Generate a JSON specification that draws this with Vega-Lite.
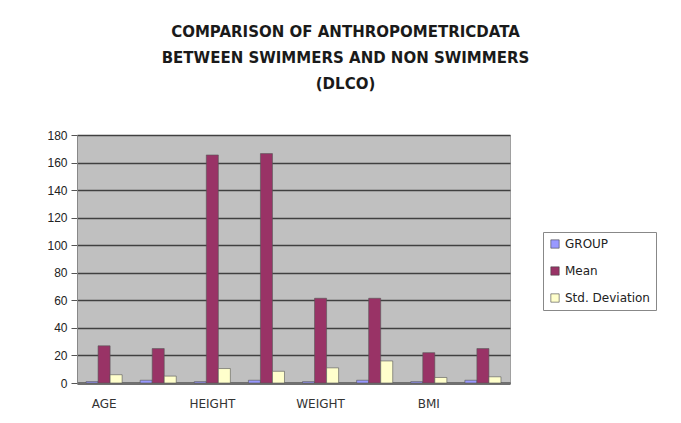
{
  "$schema": "https://vega.github.io/schema/vega-lite/v6.json",
  "autosize": "none",
  "width": 433,
  "height": 248,
  "padding": {"left": 77, "top": 135, "right": 171, "bottom": 40},
  "background": "white",
  "title": {
    "text": ["COMPARISON OF ANTHROPOMETRICDATA", "BETWEEN SWIMMERS AND NON SWIMMERS", "(DLCO)"],
    "font": "DejaVu Sans",
    "fontSize": 15,
    "fontWeight": "bold",
    "color": "#1a1a1a",
    "anchor": "middle",
    "dx": 52,
    "lineHeight": 26,
    "offset": 37
  },
  "data": {
    "values": [
      {"item": "AGE-1", "series": "GROUP", "value": 1},
      {"item": "AGE-1", "series": "Mean", "value": 27},
      {"item": "AGE-1", "series": "Std. Deviation", "value": 6},
      {"item": "AGE-2", "series": "GROUP", "value": 2},
      {"item": "AGE-2", "series": "Mean", "value": 25},
      {"item": "AGE-2", "series": "Std. Deviation", "value": 5},
      {"item": "HEIGHT-1", "series": "GROUP", "value": 1},
      {"item": "HEIGHT-1", "series": "Mean", "value": 165.5},
      {"item": "HEIGHT-1", "series": "Std. Deviation", "value": 10.5},
      {"item": "HEIGHT-2", "series": "GROUP", "value": 2},
      {"item": "HEIGHT-2", "series": "Mean", "value": 166.5},
      {"item": "HEIGHT-2", "series": "Std. Deviation", "value": 8.5},
      {"item": "WEIGHT-1", "series": "GROUP", "value": 1},
      {"item": "WEIGHT-1", "series": "Mean", "value": 61.5},
      {"item": "WEIGHT-1", "series": "Std. Deviation", "value": 11},
      {"item": "WEIGHT-2", "series": "GROUP", "value": 2},
      {"item": "WEIGHT-2", "series": "Mean", "value": 61.5},
      {"item": "WEIGHT-2", "series": "Std. Deviation", "value": 16},
      {"item": "BMI-1", "series": "GROUP", "value": 1},
      {"item": "BMI-1", "series": "Mean", "value": 22},
      {"item": "BMI-1", "series": "Std. Deviation", "value": 4},
      {"item": "BMI-2", "series": "GROUP", "value": 2},
      {"item": "BMI-2", "series": "Mean", "value": 25},
      {"item": "BMI-2", "series": "Std. Deviation", "value": 4.5}
    ]
  },
  "mark": {"type": "bar", "stroke": "#555555", "strokeWidth": 0.6},
  "encoding": {
    "x": {
      "field": "item",
      "type": "nominal",
      "sort": null,
      "scale": {"paddingInner": 0.333, "paddingOuter": 0.167},
      "axis": {
        "title": null,
        "labelAngle": 0,
        "labelExpr": "indexof(datum.value, '-1') > 0 ? replace(datum.value, '-1', '') : ''",
        "labelFont": "DejaVu Sans",
        "labelFontSize": 12,
        "labelColor": "#333333",
        "labelPadding": 15,
        "ticks": false,
        "domainColor": "#707070",
        "domainWidth": 3
      }
    },
    "xOffset": {"field": "series", "type": "nominal", "sort": ["GROUP", "Mean", "Std. Deviation"]},
    "y": {
      "field": "value",
      "type": "quantitative",
      "scale": {"domain": [0, 180], "nice": false},
      "axis": {
        "title": null,
        "values": [0, 20, 40, 60, 80, 100, 120, 140, 160, 180],
        "labelFont": "Liberation Sans",
        "labelFontSize": 12,
        "labelColor": "#222222",
        "labelPadding": 4,
        "tickSize": 6,
        "tickColor": "#555555",
        "domainColor": "#888888",
        "gridColor": "#404040",
        "gridWidth": 1.6
      }
    },
    "color": {
      "field": "series",
      "type": "nominal",
      "scale": {"domain": ["GROUP", "Mean", "Std. Deviation"], "range": ["#9999FF", "#993366", "#FFFFCC"]},
      "legend": {
        "title": null,
        "orient": "none",
        "legendX": 466,
        "legendY": 97,
        "symbolType": "square",
        "symbolSize": 70,
        "symbolStrokeColor": "#444444",
        "symbolStrokeWidth": 0.6,
        "labelFont": "DejaVu Sans",
        "labelFontSize": 12,
        "labelColor": "#222222",
        "rowPadding": 15,
        "padding": 6,
        "strokeColor": "#888888",
        "fillColor": "white"
      }
    }
  },
  "config": {
    "view": {"fill": "#C0C0C0", "stroke": "#A0A0A0"}
  }
}
